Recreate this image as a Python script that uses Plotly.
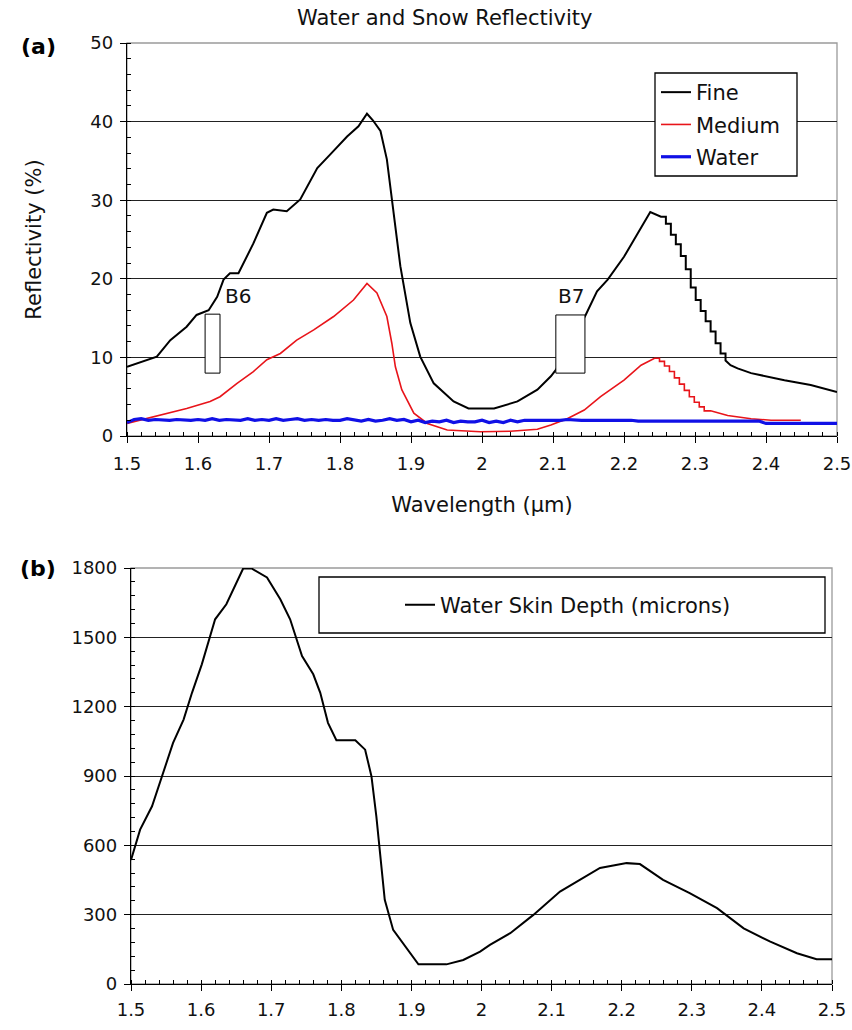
import numpy as np
import plotly.graph_objects as go

# ---------------- data ----------------
fine_w = [1.500, 1.520, 1.542, 1.561, 1.584, 1.598, 1.615, 1.627, 1.636, 1.645, 1.657, 1.678,
          1.697, 1.706, 1.725, 1.744, 1.768, 1.786, 1.810, 1.826, 1.838, 1.846, 1.857, 1.866,
          1.873, 1.885, 1.899, 1.913, 1.932, 1.960, 1.981, 2.000, 2.017, 2.050, 2.078, 2.097,
          2.104, 2.125, 2.146, 2.162, 2.177, 2.200, 2.219, 2.237, 2.252,
          2.259, 2.259, 2.266, 2.266, 2.273, 2.273, 2.280, 2.280, 2.287, 2.287, 2.294, 2.294,
          2.301, 2.301, 2.308, 2.308, 2.315, 2.315, 2.322, 2.322, 2.329, 2.329, 2.336, 2.336,
          2.343, 2.343, 2.350, 2.360, 2.379, 2.426, 2.463, 2.500]
fine_v = [8.8, 9.4, 10.1, 12.2, 13.9, 15.4, 16.0, 17.7, 19.9, 20.7, 20.7, 24.5,
          28.4, 28.8, 28.6, 30.1, 34.1, 35.8, 38.1, 39.4, 41.0, 40.2, 38.8, 35.2,
          30.1, 21.6, 14.4, 10.1, 6.7, 4.4, 3.5, 3.5, 3.5, 4.4, 5.9, 7.6,
          8.4, 11.9, 15.4, 18.4, 19.9, 22.8, 25.8, 28.5, 27.9,
          27.9, 27.0, 27.0, 25.6, 25.6, 24.4, 24.4, 22.9, 22.9, 21.2, 21.2, 18.9,
          18.9, 17.3, 17.3, 15.9, 15.9, 14.6, 14.6, 13.3, 13.3, 11.8, 11.8, 10.5,
          10.5, 9.6, 9.0, 8.6, 8.0, 7.1, 6.5, 5.6]

medium_w = [1.500, 1.518, 1.551, 1.584, 1.617, 1.631, 1.655, 1.678, 1.697, 1.716, 1.739,
            1.763, 1.791, 1.819, 1.838, 1.852, 1.866, 1.873, 1.878, 1.887, 1.904, 1.923,
            1.951, 1.998, 2.040, 2.078, 2.097, 2.120, 2.144, 2.167, 2.200, 2.224, 2.243,
            2.250, 2.250, 2.257, 2.257, 2.264, 2.264, 2.271, 2.271, 2.278, 2.278, 2.285, 2.285,
            2.292, 2.292, 2.299, 2.299, 2.306, 2.306, 2.313, 2.313, 2.322,
            2.346, 2.379, 2.407, 2.449]
medium_v = [1.6, 2.0, 2.7, 3.5, 4.4, 5.0, 6.7, 8.2, 9.7, 10.5, 12.2,
            13.5, 15.2, 17.3, 19.4, 18.2, 15.2, 11.8, 8.8, 5.9, 2.9, 1.6,
            0.76, 0.55, 0.6, 0.85, 1.4, 2.2, 3.3, 5.0, 7.1, 9.0, 9.9,
            9.9, 9.5, 9.5, 8.9, 8.9, 8.2, 8.2, 7.4, 7.4, 6.6, 6.6, 5.8,
            5.8, 5.0, 5.0, 4.3, 4.3, 3.7, 3.7, 3.2, 3.2,
            2.6, 2.2, 2.0, 2.0]

water_w = np.round(np.arange(1.50, 2.5001, 0.01), 2)
water_v = [1.7, 2.1, 2.2, 2.0, 2.1, 2.0, 2.0, 2.1, 2.0, 2.0,
           2.1, 2.0, 2.2, 2.0, 2.1, 2.0, 2.0, 2.2, 2.0, 2.1,
           2.0, 2.2, 2.0, 2.1, 2.2, 2.0, 2.1, 2.0, 2.1, 2.0,
           2.0, 2.2, 2.0, 1.9, 2.1, 1.9, 2.0, 2.2, 2.0, 2.1,
           1.8, 2.0, 1.7, 1.9, 1.8, 2.0, 1.7, 1.9, 1.8, 1.8,
           2.0, 1.7, 1.9, 1.7, 2.0, 1.8, 2.0, 2.0, 1.9, 2.0,
           2.0, 2.0, 2.1, 2.0, 2.0, 2.0, 2.0, 2.0, 2.1, 2.0,
           2.0, 2.0, 1.9, 1.9, 1.9, 1.9, 1.9, 1.9, 1.9, 1.9,
           1.9, 1.9, 1.9, 1.9, 1.9, 1.9, 1.9, 1.9, 1.9, 1.9,
           1.6, 1.6, 1.6, 1.6, 1.6, 1.6, 1.6, 1.6, 1.6, 1.6, 1.6]

skin_w = [1.500, 1.513, 1.530, 1.546, 1.560, 1.575, 1.587, 1.601, 1.610, 1.620, 1.636,
          1.648, 1.660, 1.672, 1.694, 1.713, 1.727, 1.744, 1.760, 1.770, 1.781, 1.793,
          1.820, 1.834, 1.843, 1.850, 1.855, 1.862, 1.874, 1.888, 1.900, 1.910, 1.950,
          1.974, 1.998, 2.012, 2.041, 2.074, 2.112, 2.145, 2.169, 2.207, 2.226, 2.259,
          2.297, 2.336, 2.374, 2.412, 2.450, 2.478, 2.500]
skin_v = [537, 668, 769, 913, 1043, 1144, 1260, 1383, 1477, 1578, 1643,
          1722, 1798, 1798, 1759, 1665, 1578, 1419, 1340, 1260, 1130, 1055,
          1055, 1014, 899, 725, 581, 364, 234, 176, 126, 85, 85,
          104, 140, 169, 220, 299, 400, 458, 502, 523, 519, 451,
          393, 328, 241, 183, 133, 107, 107]

bands = ["B6", "B7"]
band_lo = [1.610, 2.104]
band_hi = [1.631, 2.145]
band_bottom = [8.0, 8.0]
band_top = [15.5, 15.4]
band_label_x = [1.657, 2.125]
band_label_y = [17.8, 17.8]

# ---------------- figure ----------------
FONT = "DejaVu Sans, Verdana, sans-serif"
W, H = 852, 1030
FS_TICK = 18
FS_TEXT = 21

fig = go.Figure()
fig.add_trace(go.Scatter(x=fine_w, y=fine_v, mode="lines", name="Fine",
                         line=dict(color="black", width=2), legendgroup="a1",
                         xaxis="x", yaxis="y"))
fig.add_trace(go.Scatter(x=medium_w, y=medium_v, mode="lines", name="Medium",
                         line=dict(color="#e8141a", width=1.6), legendgroup="a2",
                         xaxis="x", yaxis="y"))
fig.add_trace(go.Scatter(x=water_w, y=water_v, mode="lines", name="Water",
                         line=dict(color="#1010e6", width=3.2), legendgroup="a3",
                         xaxis="x", yaxis="y"))
fig.add_trace(go.Scatter(x=skin_w, y=skin_v, mode="lines", name="Water Skin Depth (microns)",
                         line=dict(color="black", width=2), legend="legend2",
                         xaxis="x2", yaxis="y2"))

axis_common = dict(showline=True, linecolor="black", linewidth=1.3, ticks="outside",
                   ticklen=6, tickwidth=1.2, tickcolor="black", zeroline=False,
                   automargin=False,
                   tickfont=dict(family=FONT, size=FS_TICK, color="#111"))

fig.update_layout(
    width=W, height=H, margin=dict(l=0, r=0, t=0, b=0, autoexpand=False),
    paper_bgcolor="white", plot_bgcolor="white",
    font=dict(family=FONT, size=FS_TEXT, color="#111"),
    xaxis=dict(domain=[127 / W, 837 / W], anchor="y", range=[1.5, 2.5], tick0=1.5, dtick=0.1,
               showgrid=False, ticklabelstandoff=5,
               minor=dict(dtick=0.02, ticks="inside", ticklen=4, tickcolor="black", showgrid=False),
               title=dict(text="Wavelength (μm)", font=dict(family=FONT, size=FS_TEXT), standoff=24),
               **axis_common),
    yaxis=dict(domain=[1 - 436 / H, 1 - 43 / H], anchor="x", range=[0, 50], dtick=10,
               showgrid=True, gridcolor="#222", gridwidth=1.3, ticklabelstandoff=3,
               minor=dict(dtick=2, ticks="inside", ticklen=4, tickcolor="black", showgrid=False),
               title=dict(text="Reflectivity (%)", font=dict(family=FONT, size=FS_TEXT), standoff=42),
               **axis_common),
    xaxis2=dict(domain=[131 / W, 832 / W], anchor="y2", range=[1.5, 2.5], tick0=1.5, dtick=0.1,
                showgrid=False, ticklabelstandoff=3,
                minor=dict(dtick=0.02, ticks="inside", ticklen=4, tickcolor="black", showgrid=False),
                **axis_common),
    yaxis2=dict(domain=[1 - 984 / H, 1 - 568 / H], anchor="x2", range=[0, 1800], dtick=300,
                showgrid=True, gridcolor="#222", gridwidth=1.3, ticklabelstandoff=3,
                minor=dict(dtick=60, ticks="inside", ticklen=4, tickcolor="black", showgrid=False),
                **axis_common),
    legend=dict(x=656 / W, y=1 - 72 / H, xanchor="left", yanchor="top",
                bgcolor="rgba(0,0,0,0)", borderwidth=0, traceorder="grouped",
                tracegroupgap=2, font=dict(family=FONT, size=FS_TEXT, color="#111")),
    legend2=dict(x=400 / W, y=1 - 605 / H, xanchor="left", yanchor="middle",
                 bgcolor="rgba(0,0,0,0)", borderwidth=0,
                 font=dict(family=FONT, size=FS_TEXT, color="#111")),
    showlegend=True,
)

shapes = []
# light grey frame around each plot area
for xr, yr in (("x domain", "y domain"), ("x2 domain", "y2 domain")):
    shapes.append(dict(type="rect", xref=xr, yref=yr, x0=0, x1=1, y0=0, y1=1,
                       line=dict(color="#9a9a9a", width=1.3), layer="below"))
# legend boxes
shapes.append(dict(type="rect", xref="paper", yref="paper", x0=655 / W, x1=797 / W,
                   y0=1 - 176 / H, y1=1 - 73 / H, line=dict(color="black", width=1.3),
                   fillcolor="white", layer="above"))
shapes.append(dict(type="rect", xref="paper", yref="paper", x0=319 / W, x1=825 / W,
                   y0=1 - 633 / H, y1=1 - 577 / H, line=dict(color="black", width=1.3),
                   fillcolor="white", layer="above"))
# band boxes
for lo, hi, b, t in zip(band_lo, band_hi, band_bottom, band_top):
    shapes.append(dict(type="rect", xref="x", yref="y", x0=lo, x1=hi, y0=b, y1=t,
                       line=dict(color="black", width=1), fillcolor="white", layer="above"))
fig.update_layout(shapes=shapes)

annotations = [
    dict(text="Water and Snow Reflectivity", xref="paper", yref="paper", x=445 / W, y=1 - 18 / H,
         xanchor="center", showarrow=False,
         font=dict(family=FONT, size=FS_TEXT, color="#111"), yanchor="middle"),
    dict(text="<b>(a)</b>", xref="paper", yref="paper", x=38 / W, y=1 - 46 / H,
         xanchor="center", showarrow=False,
         font=dict(family=FONT, size=22, color="black"), yanchor="middle"),
    dict(text="<b>(b)</b>", xref="paper", yref="paper", x=38 / W, y=1 - 568 / H,
         xanchor="center", showarrow=False,
         font=dict(family=FONT, size=22, color="black"), yanchor="middle"),
]
for name, lx, ly in zip(bands, band_label_x, band_label_y):
    annotations.append(dict(text=name, xref="x", yref="y", x=lx, y=ly, showarrow=False,
                            font=dict(family=FONT, size=FS_TEXT - 1, color="#111"), yanchor="middle"))
fig.update_layout(annotations=annotations)

fig.write_html("out.html", config={"displayModeBar": False},
               post_script="document.body.style.margin='0';document.body.style.padding='0';")
